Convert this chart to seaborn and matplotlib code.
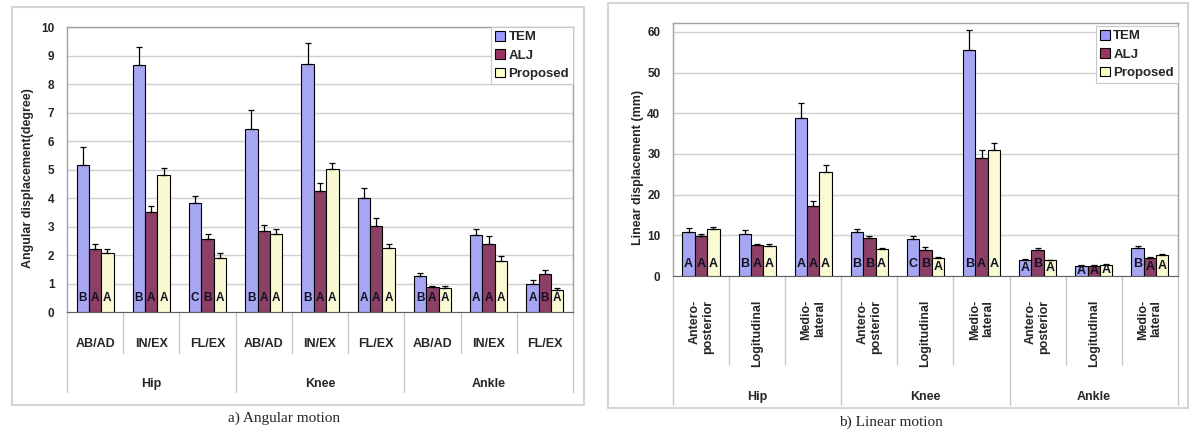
import numpy as np
import pandas as pd
import matplotlib
matplotlib.use("Agg")
import matplotlib.pyplot as plt
import matplotlib.transforms as mtransforms
from matplotlib.patches import Patch, Rectangle
import seaborn as sns

# ── Data ───────────────────────────────────────────────────────
METHODS = ["TEM", "ALJ", "Proposed"]
COLORS = ["#9999FF", "#993366", "#FFFFCC"]
JOINTS = ["Hip", "Knee", "Ankle"]

ang_motions = ["AB/AD", "IN/EX", "FL/EX"]
ang_tem      = [5.16, 8.65, 3.82, 6.42, 8.70, 4.01, 1.27, 2.70, 1.00]
ang_tem_sd   = [0.64, 0.66, 0.26, 0.67, 0.73, 0.33, 0.10, 0.21, 0.11]
ang_alj      = [2.20, 3.52, 2.57, 2.85, 4.25, 3.02, 0.88, 2.40, 1.33]
ang_alj_sd   = [0.18, 0.20, 0.17, 0.22, 0.29, 0.27, 0.02, 0.26, 0.13]
ang_prop     = [2.07, 4.81, 1.89, 2.72, 5.01, 2.24, 0.84, 1.80, 0.78]
ang_prop_sd  = [0.13, 0.25, 0.18, 0.19, 0.21, 0.16, 0.09, 0.15, 0.06]
ang_letters  = ["BAA", "BAA", "CBA", "BAA", "BAA", "AAA", "BAA", "AAA", "ABA"]

lin_motions = ["Antero-\nposterior", "Logitudinal", "Medio-\nlateral"]
lin_tem      = [10.8, 10.4, 38.95, 10.9, 9.0, 55.5, 3.93, 2.54, 6.96]
lin_tem_sd   = [1.07, 0.80, 3.55, 0.70, 0.74, 5.10, 0.24, 0.08, 0.40]
lin_alj      = [9.82, 7.6, 17.1, 9.3, 6.38, 28.97, 6.46, 2.54, 4.5]
lin_alj_sd   = [0.58, 0.30, 1.40, 0.50, 0.66, 2.03, 0.41, 0.16, 0.16]
lin_prop     = [11.46, 7.5, 25.45, 6.7, 4.5, 31.0, 3.85, 2.78, 5.07]
lin_prop_sd  = [0.54, 0.35, 1.95, 0.30, 0.16, 1.70, 0.15, 0.17, 0.25]
lin_letters  = ["AAA", "BAA", "AAA", "BBA", "CBA", "BAA", "ABA", "AAA", "BAA"]

sns.set_style("white")
plt.rcParams["font.family"] = ["Liberation Sans", "DejaVu Sans"]
plt.rcParams["font.weight"] = "bold"


def long_frame(motions, series):
    rows = []
    cats = [f"{j} {m}" for j in JOINTS for m in motions]
    for method, vals in zip(METHODS, series):
        for c, v in zip(cats, vals):
            rows.append({"cat": c, "method": method, "value": v})
    return pd.DataFrame(rows), cats


def draw_panel(ax, motions, series, sds, letters, ymax, ystep, ylabel,
               letter_y, lab_y, short_y, long_y, grp_y, rotate, legend_y):
    df, cats = long_frame(motions, series)
    sns.barplot(data=df, x="cat", y="value", hue="method", order=cats,
                hue_order=METHODS, palette=COLORS, errorbar=None,
                width=0.66, edgecolor="black", linewidth=0.8,
                ax=ax, zorder=3)
    if ax.get_legend() is not None:
        ax.get_legend().remove()

    # one-sided error bars + significance letters
    for cont, sd, k in zip(ax.containers, sds, range(3)):
        xs = [p.get_x() + p.get_width() / 2 for p in cont]
        hs = [p.get_height() for p in cont]
        ax.errorbar(xs, hs, yerr=[np.zeros(len(sd)), sd], fmt="none",
                    ecolor="black", elinewidth=0.9, capsize=2.5,
                    capthick=0.9, zorder=4)
        for x, h, lt in zip(xs, hs, letters):
            ax.text(x, letter_y(h), lt[k], ha="center", va="center",
                    fontsize=9 if rotate else 8.5, fontweight="bold",
                    color="#111122", zorder=5)

    ax.set_xlim(-0.5, len(cats) - 0.5)
    ax.set_ylim(0, ymax)
    ax.set_yticks(np.arange(0, ymax + 0.01, ystep))
    ax.yaxis.grid(True, color="#d0d0d0", linewidth=1, zorder=0)
    ax.set_xticks([])
    ax.set_xlabel("")
    ax.set_ylabel(ylabel, fontsize=9, fontweight="bold")
    ax.tick_params(axis="y", length=0, pad=9, labelsize=8.5)
    for lbl in ax.get_yticklabels():
        lbl.set_fontweight("bold")
    for side in ["top", "right", "left"]:
        ax.spines[side].set_color("#a0a0a0")
        ax.spines[side].set_linewidth(1)
    ax.spines["bottom"].set_color("#606060")

    # hierarchical category axis
    trans = mtransforms.blended_transform_factory(ax.transData, ax.transAxes)
    for i in range(len(cats) + 1):
        y_end = long_y if i % 3 == 0 else short_y
        ax.plot([i - 0.5, i - 0.5], [0, y_end], color="#c8c8c8", lw=1,
                transform=trans, clip_on=False)
    for i, c in enumerate(cats):
        m = motions[i % 3]
        if rotate:
            ax.text(i, lab_y, m, transform=trans, rotation=90, ha="center",
                    va="top", multialignment="right", fontsize=9,
                    fontweight="bold", linespacing=1.15)
        else:
            ax.text(i, lab_y, m, transform=trans, ha="center", va="center",
                    fontsize=9, fontweight="bold")
    for g, j in enumerate(JOINTS):
        ax.text(3 * g + 1, grp_y, j, transform=trans, ha="center",
                va="center", fontsize=9, fontweight="bold")

    handles = [Patch(facecolor=c, edgecolor="black", linewidth=0.8)
               for c in COLORS]
    leg = ax.legend(handles, METHODS, loc="upper right",
                    bbox_to_anchor=(1.0, legend_y), borderaxespad=0,
                    fancybox=False, framealpha=1, edgecolor="#c8c8c8",
                    handlelength=0.75, handleheight=0.75, handletextpad=0.25,
                    labelspacing=0.45, borderpad=0.3,
                    prop={"weight": "bold", "size": 9.5})
    leg.get_frame().set_linewidth(0.8)
    leg.set_zorder(6)


fig = plt.figure(figsize=(12, 4.4), dpi=100)

# outer chart frames
fig.add_artist(Rectangle((0.010, 0.0795), 0.4767, 0.9045,
                         transform=fig.transFigure, fill=False,
                         edgecolor="#d6d6d6", linewidth=1.5))
fig.add_artist(Rectangle((0.5067, 0.0727), 0.4833, 0.9205,
                         transform=fig.transFigure, fill=False,
                         edgecolor="#d6d6d6", linewidth=1.5))

ax1 = fig.add_axes([0.0558, 0.2909, 0.4217, 0.6477])
draw_panel(ax1, ang_motions, [ang_tem, ang_alj, ang_prop],
           [ang_tem_sd, ang_alj_sd, ang_prop_sd], ang_letters,
           ymax=10, ystep=1, ylabel="Angular displacement(degree)",
           letter_y=lambda h: 0.48, lab_y=-0.112, short_y=-0.144,
           long_y=-0.281, grp_y=-0.253, rotate=False, legend_y=1.0)
ax1.yaxis.set_label_coords(-0.066, 0.47)

ax2 = fig.add_axes([0.5608, 0.3727, 0.4208, 0.575])
draw_panel(ax2, lin_motions, [lin_tem, lin_alj, lin_prop],
           [lin_tem_sd, lin_alj_sd, lin_prop_sd], lin_letters,
           ymax=62.2, ystep=10, ylabel="Linear displacement (mm)",
           letter_y=lambda h: min(2.9, 0.5 * h), lab_y=-0.095,
           short_y=-0.352, long_y=-0.51, grp_y=-0.478, rotate=True,
           legend_y=1 - 3 / 253)
ax2.yaxis.set_label_coords(-0.058, 0.43)

fig.text(0.2367, 0.05, "a) Angular motion", ha="center", va="center",
         family=["Liberation Serif", "DejaVu Serif"], fontweight="normal",
         fontsize=11)
fig.text(0.7425, 0.041, "b) Linear motion", ha="center", va="center",
         family=["Liberation Serif", "DejaVu Serif"], fontweight="normal",
         fontsize=11)

fig.savefig("out.png", dpi=100, facecolor="white")
